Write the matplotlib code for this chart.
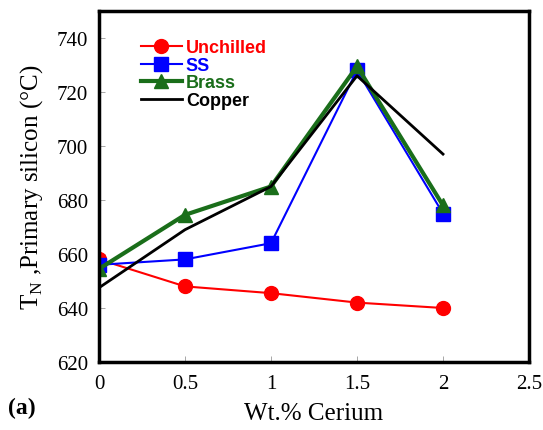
import matplotlib
matplotlib.use('Agg')
import matplotlib.pyplot as plt

# data
ce = [0, 0.5, 1, 1.5, 2]
unchilled = [658, 648, 645.5, 642, 640]
ss = [656, 658, 664, 728, 675]
brass = [654.5, 674.5, 685, 729.5, 678]
copper = [647.5, 669, 685, 726, 697]

plt.rcParams['font.family'] = 'Liberation Serif'

fig = plt.figure(figsize=(5.43, 4.31), dpi=100)
ax = fig.add_axes([99/543, 1-363/431, 430/543, 351/431])

ax.plot(ce, unchilled, color='red', marker='o', markersize=10, lw=1.5, label='Unchilled')
ax.plot(ce, ss, color='blue', marker='s', markersize=10, lw=1.5, label='SS')
ax.plot(ce, brass, color='#1a6e1a', marker='^', markersize=10, lw=3, label='Brass')
ax.plot(ce, copper, color='black', lw=2, label='Copper')

ax.set_xlim(0, 2.5)
ax.set_ylim(620, 750)
ax.set_xticks([0, 0.5, 1, 1.5, 2, 2.5])
ax.set_xticklabels(['0', '0.5', '1', '1.5', '2', '2.5'])
ax.set_yticks([620, 640, 660, 680, 700, 720, 740])
ax.tick_params(direction='in', length=4, width=0.6, labelsize=15, colors='#999999', labelcolor='black')
ax.tick_params(axis='x', pad=9)
ax.tick_params(axis='y', pad=8)
for s in ax.spines.values():
    s.set_linewidth(2.5)

ax.set_xlabel('Wt.% Cerium', fontsize=18, labelpad=6)
ax.set_ylabel(r'T$_\mathregular{N}$ ,Primary silicon (°C)', fontsize=18, labelpad=8)

leg = ax.legend(loc='upper left', bbox_to_anchor=(0.08, 0.94), frameon=False,
                prop={'family': 'Liberation Sans', 'weight': 'bold', 'size': 13},
                handlelength=2.3, handletextpad=0.2, labelspacing=0.03, borderaxespad=0,
                markerscale=1.0)
for t, c in zip(leg.get_texts(), ['red', 'blue', '#1a6e1a', 'black']):
    t.set_color(c)

fig.text(8/543, 1-408/431, '(a)', fontsize=17, fontweight='bold', va='center')

fig.savefig('out.png', dpi=100)
